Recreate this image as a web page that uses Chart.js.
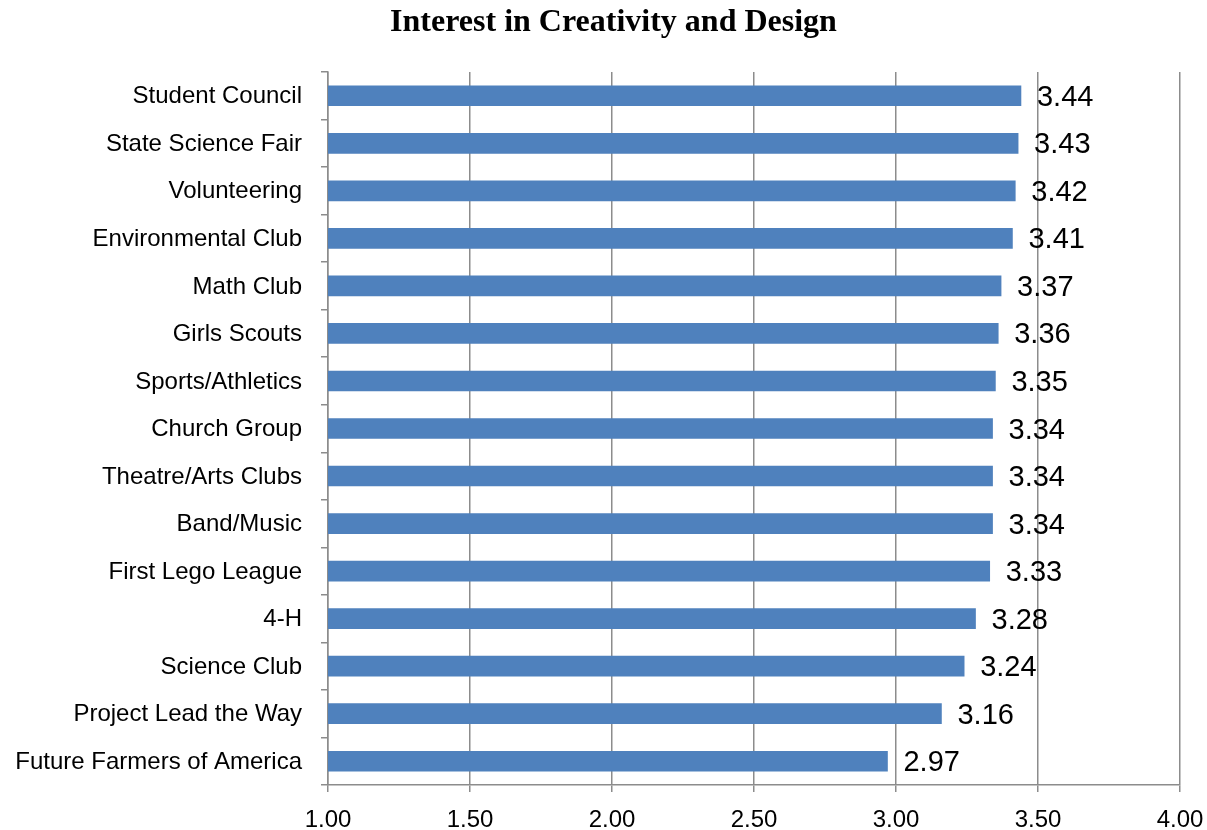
<!DOCTYPE html>
<html>
<head>
<meta charset="utf-8">
<script src="https://cdn.jsdelivr.net/npm/chart.js@4"></script>
<style>
  html, body { margin: 0; padding: 0; background: #fff; }
  #wrap { width: 1207px; height: 830px; }
</style>
</head>
<body>
<div id="wrap"><canvas id="chart" width="1207" height="830"></canvas></div>
<script>
// --- data ---
const categories = [
  "Student Council",
  "State Science Fair",
  "Volunteering",
  "Environmental Club",
  "Math Club",
  "Girls Scouts",
  "Sports/Athletics",
  "Church Group",
  "Theatre/Arts Clubs",
  "Band/Music",
  "First Lego League",
  "4-H",
  "Science Club",
  "Project Lead the Way",
  "Future Farmers of America",
];
const scores = [3.44, 3.43, 3.42, 3.41, 3.37, 3.36, 3.35, 3.34, 3.34, 3.34, 3.33, 3.28, 3.24, 3.16, 2.97];
const xMin = 1;
const xMax = 4;
const xStep = 0.5;

const GRID = "#8c8c8c";
const LABEL_FONT = "'Liberation Sans', Arial, sans-serif";

// --- value labels at bar ends ---
const valueLabels = {
  id: "valueLabels",
  afterDatasetsDraw(chart) {
    const { ctx } = chart;
    const meta = chart.getDatasetMeta(0);
    ctx.save();
    ctx.font = "29px " + LABEL_FONT;
    ctx.fillStyle = "#000";
    ctx.textAlign = "left";
    ctx.textBaseline = "middle";
    meta.data.forEach((bar, i) => {
      ctx.fillText(scores[i].toFixed(2), bar.x + 16, bar.y + 2);
    });
    ctx.restore();
  },
};

// the original title sits ~10px right of the canvas centre
const titleShift = {
  id: "titleShift",
  afterLayout(chart) {
    if (chart.titleBlock) chart.titleBlock.left = 20;
  },
};

new Chart(document.getElementById("chart"), {
  type: "bar",
  data: {
    labels: categories,
    datasets: [
      {
        data: scores,
        backgroundColor: "#4f81bd",
        borderWidth: 0,
        barThickness: 20,
      },
    ],
  },
  options: {
    indexAxis: "y",
    responsive: false,
    animation: false,
    layout: { padding: { left: 0, right: 0, top: 0, bottom: 0 } },
    plugins: {
      legend: { display: false },
      tooltip: { enabled: false },
      title: {
        display: true,
        text: "Interest in Creativity and Design",
        color: "#000",
        font: { family: "'Liberation Serif', 'Times New Roman', serif", size: 32, weight: "bold", lineHeight: 1.2 },
        padding: { top: 4, bottom: 29.6 },
      },
    },
    scales: {
      x: {
        type: "linear",
        min: xMin,
        max: xMax,
        afterFit: (scale) => {
          scale.height = 45;
          scale.paddingLeft = 0;
          scale.paddingRight = 27;
        },
        ticks: {
          stepSize: xStep,
          color: "#000",
          font: { family: LABEL_FONT, size: 24 },
          padding: 14,
          callback: (v) => Number(v).toFixed(2),
        },
        grid: { color: GRID, lineWidth: 1.5, tickLength: 7, tickColor: GRID },
        border: { color: GRID, width: 1.5 },
      },
      y: {
        afterFit: (scale) => { scale.width = 328; },
        ticks: {
          color: "#000",
          font: { family: LABEL_FONT, size: 24 },
          padding: 19,
          labelOffset: 1,
        },
        grid: { offset: true, drawOnChartArea: false, tickLength: 7, color: GRID, lineWidth: 1.5 },
        border: { color: GRID, width: 1.5 },
      },
    },
  },
  plugins: [valueLabels, titleShift],
});
</script>
</body>
</html>
